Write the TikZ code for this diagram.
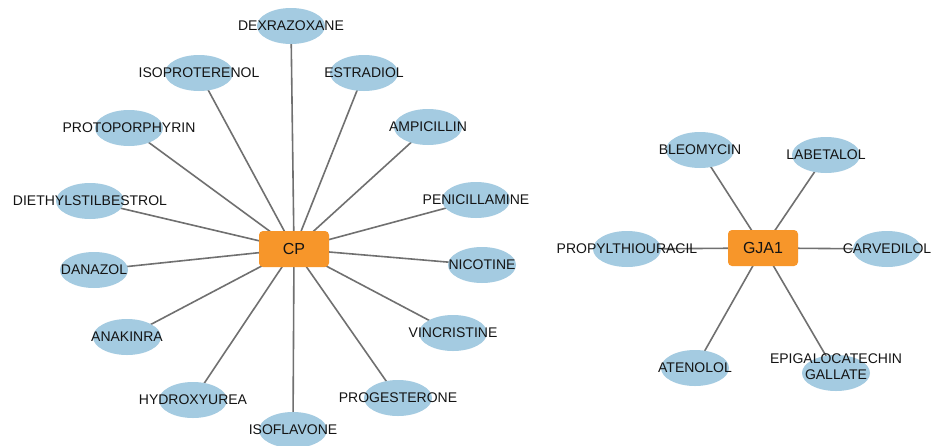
\documentclass[tikz,border=0pt]{standalone}
\usepackage{fontspec}
\setmainfont{Liberation Sans}
\usetikzlibrary{shapes.geometric,backgrounds}
\definecolor{drugblue}{HTML}{A4CBE1}
\definecolor{geneorange}{HTML}{F7962A}
\definecolor{edgegray}{HTML}{707070}
\definecolor{txt}{HTML}{141414}
\tikzset{
  drug/.style={ellipse, fill=drugblue, draw=none, minimum width=68pt, minimum height=36pt, inner sep=0pt},
  lbl/.style={font=\fontsize{14}{16}\selectfont, text=txt, inner sep=0pt},
  gene/.style={rectangle, rounded corners=4pt, fill=geneorange, draw=none, minimum width=70pt, minimum height=36pt, inner sep=0pt, font=\fontsize{16}{18}\selectfont, text=txt},
  link/.style={draw=edgegray, line width=1.6pt}
}
\begin{document}
\begin{tikzpicture}[x=1pt,y=-1pt]
\useasboundingbox (0,0) rectangle (937,445);
% CP cluster
\node[gene] (cp) at (294,249) {CP};
\node[drug, label={[lbl]center:DEXRAZOXANE}] (dex) at (291,26) {};
\node[drug, label={[lbl]center:ISOPROTERENOL}] (iso) at (199,73) {};
\node[drug, label={[lbl]center:ESTRADIOL}] (est) at (364,73) {};
\node[drug, label={[lbl]center:PROTOPORPHYRIN}] (proto) at (129,128) {};
\node[drug, label={[lbl]center:AMPICILLIN}] (amp) at (428,127) {};
\node[drug, label={[lbl]center:DIETHYLSTILBESTROL}] (dieth) at (90,201) {};
\node[drug, label={[lbl]center:PENICILLAMINE}] (pen) at (476,200) {};
\node[drug, label={[lbl]center:DANAZOL}] (dan) at (94,270) {};
\node[drug, label={[lbl]center:NICOTINE}] (nic) at (482,265) {};
\node[drug, label={[lbl]center:ANAKINRA}] (ana) at (127,337) {};
\node[drug, label={[lbl]center:VINCRISTINE}] (vin) at (453,333) {};
\node[drug, label={[lbl]center:HYDROXYUREA}] (hyd) at (193,400) {};
\node[drug, label={[lbl]center:PROGESTERONE}] (prog) at (398,398) {};
\node[drug, label={[lbl]center:ISOFLAVONE}] (isof) at (293,430) {};
% GJA1 cluster
\node[gene] (gja) at (763,248) {GJA1};
\node[drug, label={[lbl]center:BLEOMYCIN}] (bleo) at (700,150) {};
\node[drug, label={[lbl]center:LABETALOL}] (lab) at (826,155) {};
\node[drug, label={[lbl]center:PROPYLTHIOURACIL}] (prop) at (627,249) {};
\node[drug, label={[lbl]center:CARVEDILOL}] (carv) at (887,249) {};
\node[drug, label={[lbl]center:ATENOLOL}] (aten) at (695,368) {};
\node[drug, label={[lbl,align=center,yshift=6pt]center:EPIGALOCATECHIN\\GALLATE}] (epi) at (836,373) {};
\begin{pgfonlayer}{background}
\fill[white] (0,0) rectangle (937,445);
\foreach \d in {dex,iso,est,proto,amp,dieth,pen,dan,nic,ana,vin,hyd,prog,isof}
  \draw[link] (cp.center) -- (\d.center);
\foreach \d in {bleo,lab,prop,carv,aten,epi}
  \draw[link] (gja.center) -- (\d.center);
\end{pgfonlayer}
\end{tikzpicture}
\end{document}
